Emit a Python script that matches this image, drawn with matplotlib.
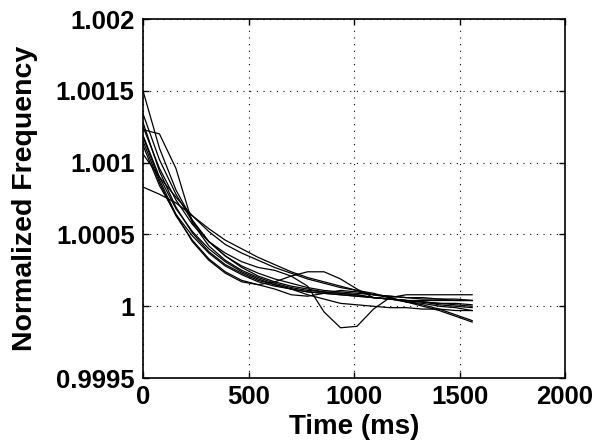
import matplotlib
matplotlib.use("Agg")
import matplotlib.pyplot as plt

time_ms = [0, 78, 156, 234, 312, 390, 468, 546, 624, 702, 780,
           858, 936, 1014, 1092, 1170, 1248, 1326, 1404, 1482, 1560]

curve_a = [1.00150, 1.00110, 1.00081, 1.00060, 1.00045, 1.00035, 1.00028, 1.00023, 1.00019, 1.00016, 1.00013,
           1.00011, 1.00010, 1.00009, 1.00008, 1.00007, 1.00006, 1.00006, 1.00005, 1.00005, 1.00004]
curve_b = [1.00134, 1.00102, 1.00078, 1.00059, 1.00045, 1.00035, 1.00027, 1.00021, 1.00017, 1.00014, 1.00012,
           1.00010, 1.00009, 1.00008, 1.00006, 1.00005, 1.00004, 1.00003, 1.00002, 1.00002, 1.00001]
curve_c = [1.00123, 1.00120, 1.00096, 1.00058, 1.00042, 1.00032, 1.00025, 1.00020, 1.00016, 1.00013, 1.00011,
           1.00010, 1.00009, 1.00008, 1.00006, 1.00005, 1.00003, 1.00002, 1.00000, 0.99999, 0.99997]
curve_d = [1.00119, 1.00090, 1.00068, 1.00052, 1.00040, 1.00031, 1.00024, 1.00019, 1.00015, 1.00012, 1.00008,
           1.00005, 1.00002, 1.00001, 1.00000, 0.99999, 0.99999, 0.99998, 0.99998, 0.99997, 0.99997]
curve_e = [1.00106, 1.00090, 1.00076, 1.00063, 1.00052, 1.00043, 1.00037, 1.00032, 1.00027, 1.00023, 1.00019,
           1.00016, 1.00013, 1.00011, 1.00008, 1.00006, 1.00003, 1.00001, 0.99998, 0.99994, 0.99990]
curve_f = [1.00083, 1.00078, 1.00072, 1.00063, 1.00054, 1.00046, 1.00040, 1.00034, 1.00029, 1.00024, 1.00020,
           1.00017, 1.00014, 1.00011, 1.00009, 1.00006, 1.00003, 1.00000, 0.99997, 0.99993, 0.99989]
curve_g = [1.00125, 1.00096, 1.00074, 1.00057, 1.00045, 1.00037, 1.00031, 1.00027, 1.00025, 1.00021, 1.00014,
           0.99996, 0.99985, 0.99986, 0.99998, 1.00006, 1.00008, 1.00008, 1.00008, 1.00008, 1.00008]
curve_h = [1.00118, 1.00088, 1.00064, 1.00045, 1.00032, 1.00023, 1.00017, 1.00015, 1.00017, 1.00021, 1.00024,
           1.00024, 1.00019, 1.00012, 1.00006, 1.00005, 1.00004, 1.00004, 1.00004, 1.00004, 1.00004]
curve_i = [1.00128, 1.00094, 1.00069, 1.00051, 1.00038, 1.00029, 1.00023, 1.00018, 1.00015, 1.00012, 1.00010,
           1.00009, 1.00008, 1.00007, 1.00006, 1.00005, 1.00004, 1.00003, 1.00002, 1.00001, 1.00000]
curve_j = [1.00115, 1.00086, 1.00063, 1.00046, 1.00033, 1.00024, 1.00018, 1.00015, 1.00012, 1.00008, 1.00007,
           1.00009, 1.00011, 1.00010, 1.00008, 1.00007, 1.00006, 1.00005, 1.00005, 1.00004, 1.00004]
curve_k = [1.00112, 1.00084, 1.00064, 1.00049, 1.00037, 1.00028, 1.00022, 1.00017, 1.00014, 1.00012, 1.00010,
           1.00009, 1.00008, 1.00007, 1.00006, 1.00005, 1.00004, 1.00003, 1.00001, 1.00000, 0.99999]

curves = [curve_a, curve_b, curve_c, curve_d, curve_e, curve_f, curve_g, curve_h, curve_i, curve_j, curve_k]

x_ticks = [0, 500, 1000, 1500, 2000]
x_tick_labels = ["0", "500", "1000", "1500", "2000"]
y_ticks = [0.9995, 1.0, 1.0005, 1.001, 1.0015, 1.002]
y_tick_labels = ["0.9995", "1", "1.0005", "1.001", "1.0015", "1.002"]

plt.rcParams['font.family'] = ['Liberation Sans', 'DejaVu Sans']

fig = plt.figure(figsize=(6.05, 4.44), dpi=100)
ax = fig.add_axes([0.2364, 0.1486, 0.9339 - 0.2364, 0.957 - 0.1486])

for c in curves:
    ax.plot(time_ms, c, color='black', linewidth=0.9)

ax.set_xlim(0, 2000)
ax.set_ylim(0.9995, 1.002)
ax.set_xticks(x_ticks)
ax.set_xticklabels(x_tick_labels, fontsize=18.5, fontweight='bold')
ax.set_yticks(y_ticks)
ax.set_yticklabels(y_tick_labels, fontsize=18.5, fontweight='bold')
ax.tick_params(direction='in', length=4, width=1, top=True, right=True)
ax.tick_params(axis='y', pad=6)
ax.tick_params(axis='x', pad=5)
ax.grid(True, color='black', linestyle=(0, (1, 5)), linewidth=0.8)
for s in ax.spines.values():
    s.set_linewidth(1.2)

ax.set_xlabel("Time (ms)", fontsize=20, fontweight='bold')
ax.xaxis.label.set_va('top')
ax.xaxis.set_label_coords(0.5, -0.100)
ax.set_ylabel("Normalized Frequency", fontsize=20.5, fontweight='bold')
ax.yaxis.label.set_va('center')
ax.yaxis.set_label_coords(-0.279, 0.5)

fig.savefig("out.png", dpi=100)
